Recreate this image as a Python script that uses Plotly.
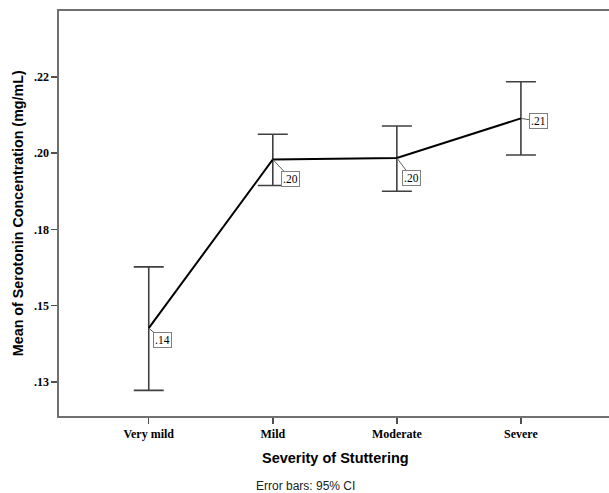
import plotly.graph_objects as go

# ---- data ----
categories = ["Very mild", "Mild", "Moderate", "Severe"]
means = [0.1426, 0.1979, 0.1984, 0.2114]
ci_upper = [0.1627, 0.2062, 0.2089, 0.2234]
ci_lower = [0.1222, 0.1894, 0.1875, 0.1994]
ytick_vals = [0.125, 0.150, 0.175, 0.200, 0.225]
ytick_text = [".13", ".15", ".18", ".20", ".22"]

# ---- styling ----
label_offsets = [(14, 12), (18, 19), (15, 20), (18, 3)]
W, H = 609, 493          # visible window
FW = 680                 # figure is wider; the frame runs off the right edge
L, T, B = 59.3, 10.7, 77
axis_grey = "#707070"

xs = list(range(len(categories)))
plus = [u - m for u, m in zip(ci_upper, means)]
minus = [m - l for m, l in zip(means, ci_lower)]

fig = go.Figure()
fig.add_trace(go.Scatter(
    x=xs, y=means, mode="lines",
    line=dict(color="black", width=2),
    error_y=dict(type="data", symmetric=False, array=plus, arrayminus=minus,
                 color="#404040", thickness=1.6, width=15),
    hoverinfo="skip", showlegend=False,
))


def fmt(v):
    s = f"{v:.2f}"
    return s[1:] if s.startswith("0") else s


for x, m, (ax, ay) in zip(xs, means, label_offsets):
    fig.add_annotation(
        x=x, y=m, xref="x", yref="y", text=fmt(m),
        showarrow=True, arrowhead=0, arrowwidth=1, arrowcolor="#606060",
        ax=ax, ay=ay, bordercolor="#808080", borderwidth=1, borderpad=1,
        bgcolor="white",
        font=dict(family="Liberation Serif", size=11.5, color="black"),
    )

pw = FW - L
ph = H - T - B

fig.add_annotation(
    text="Mean of Serotonin Concentration (mg/mL)", textangle=-90,
    xref="paper", yref="paper", x=(18 - L) / pw, y=0.5,
    xanchor="center", yanchor="middle", showarrow=False,
    font=dict(family="Liberation Sans", size=14.3, color="black", weight="bold"),
)
fig.add_annotation(
    text="Severity of Stuttering",
    xref="paper", yref="paper", x=(335.5 - L) / pw, y=-(458 - (T + ph)) / ph,
    xanchor="center", yanchor="middle", showarrow=False,
    font=dict(family="Liberation Sans", size=14.5, color="black", weight="bold"),
)
fig.add_annotation(
    text="Error bars: 95% CI",
    xref="paper", yref="paper", x=(306 - L) / pw, y=-(486 - (T + ph)) / ph,
    xanchor="center", yanchor="middle", showarrow=False,
    font=dict(family="Liberation Sans", size=12, color="#222222"),
)

spacing = 124.0
x0px = 149.0
fig.update_layout(
    width=FW, height=H,
    margin=dict(l=L, r=0, t=T, b=B, pad=0),
    paper_bgcolor="white", plot_bgcolor="white",
    hovermode=False, dragmode=False,
    xaxis=dict(
        range=[(L - x0px) / spacing, (FW - x0px) / spacing],
        tickvals=xs, ticktext=categories,
        showline=True, mirror=True, linecolor=axis_grey, linewidth=1.6,
        ticks="outside", ticklen=6, tickwidth=1.5, tickcolor="#505050",
        showgrid=False, zeroline=False, fixedrange=True,
        tickfont=dict(family="Liberation Serif", size=12, color="black", weight="bold"),
    ),
    yaxis=dict(
        range=[0.1138, 0.2466],
        tickvals=ytick_vals, ticktext=ytick_text,
        showline=True, mirror=False, linecolor=axis_grey, linewidth=1.6,
        ticks="outside", ticklen=6, tickwidth=1.5, tickcolor="#505050",
        showgrid=False, zeroline=False, fixedrange=True,
        tickfont=dict(family="Liberation Serif", size=12, color="black", weight="bold"),
    ),
)

fig.write_html(
    "out.html",
    config={"displayModeBar": False, "staticPlot": True},
    post_script="document.body.style.margin='0';document.body.style.overflow='hidden';",
)
